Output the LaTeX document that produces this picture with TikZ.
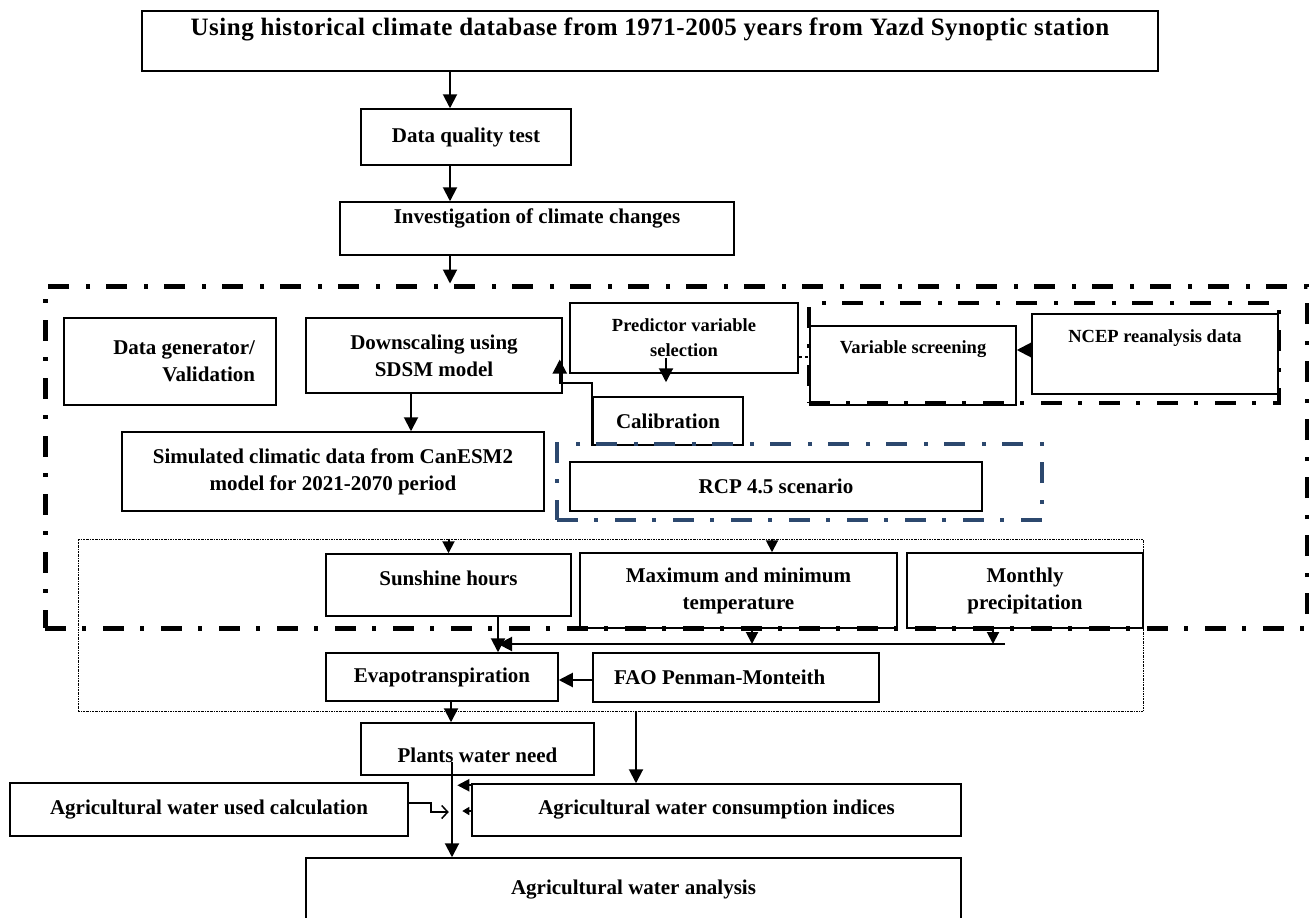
\documentclass[tikz,border=0pt]{standalone}
\usepackage{fontspec}
\setmainfont{Liberation Serif}
\usetikzlibrary{arrows.meta}
\definecolor{frameblue}{RGB}{44,72,110}

\begin{document}
\begin{tikzpicture}[x=1pt,y=-1pt, every node/.style={font=\fontsize{21}{27}\selectfont\bfseries,align=center}, box/.style={draw,line width=1.5pt,inner sep=3pt}, small/.style={font=\fontsize{18.5}{25}\selectfont\bfseries}, dashdot/.style={line width=#1,dash pattern=on 21pt off 16pt on 4pt off 17pt}, arr/.style={-{Triangle[length=14pt,width=14pt]},line width=2pt}, sarr/.style={-{Triangle[length=12pt,width=12pt]},line width=2pt}]
\useasboundingbox (0,0) rectangle (1309,918);
\node[box,font=\fontsize{25}{29}\selectfont\bfseries\addfontfeatures{LetterSpace=2},minimum width=1016pt,minimum height=60pt,text height=17pt,text depth=29pt] (hist) at (650,41) {Using historical climate database from 1971-2005 years from Yazd Synoptic station};
\node[box,minimum width=210pt,minimum height=56pt] (dq) at (466,137) {Data quality test};
\node[box,minimum width=394pt,minimum height=53pt,text height=15pt,text depth=26pt] (inv) at (537,228.5) {Investigation of climate changes};
\node[box,minimum width=212pt,minimum height=87pt,text width=170pt,align=flush right] (gen) at (170,361.5) {Data generator/\\Validation};
\node[box,minimum width=256pt,minimum height=75pt] (down) at (434,355.5) {Downscaling using\\SDSM model};
\node[box,small,minimum width=228pt,minimum height=70pt] (pred) at (684,338) {Predictor variable\\selection};
\node[box,minimum width=150pt,minimum height=48pt] (cal) at (668,421) {Calibration};
\node[box,small,minimum width=206pt,minimum height=79pt,text height=13pt,text depth=38pt] (screen) at (913,365.5) {Variable screening};
\node[box,small,minimum width=246pt,minimum height=80pt,text height=13pt,text depth=37pt] (ncep) at (1155,354) {NCEP reanalysis data};
\node[box,minimum width=422pt,minimum height=79pt] (sim) at (333,471.5) {Simulated climatic data from CanESM2\\model for 2021-2070 period};
\node[box,minimum width=412pt,minimum height=49pt] (rcp) at (776,486.5) {RCP 4.5 scenario};
\node[box,minimum width=245pt,minimum height=62pt,text height=15pt,text depth=15pt] (sun) at (448.5,585) {Sunshine hours};
\node[box,minimum width=317pt,minimum height=75pt] (temp) at (738.5,590.5) {Maximum and minimum\\temperature};
\node[box,minimum width=236pt,minimum height=75pt] (prec) at (1025,590.5) {Monthly\\precipitation};
\node[box,minimum width=232pt,minimum height=48pt] (evap) at (442,677) {Evapotranspiration};
\node[box,minimum width=286pt,minimum height=49pt,text width=244pt,align=flush left] (fao) at (736,677.5) {FAO Penman-Monteith};
\node[box,minimum width=233pt,minimum height=52pt,text height=26pt,text depth=0pt] (need) at (477.5,749) {Plants water need};
\node[box,minimum width=398pt,minimum height=53pt] (used) at (209,809.5) {Agricultural water used calculation};
\node[box,minimum width=489pt,minimum height=52pt] (cons) at (716.5,810) {Agricultural water consumption indices};
\node[box,minimum width=655pt,minimum height=64pt] (anal) at (633.5,890) {Agricultural water analysis};
\node[draw,dashdot=5pt,minimum width=1262pt,minimum height=342pt] (frame) at (676,457) {};
\node[draw,dashdot=4pt,minimum width=470pt,minimum height=100pt] (ncepframe) at (1044,353) {};
\node[draw=frameblue,dashdot=4pt,minimum width=485pt,minimum height=76pt] (rcpframe) at (799.5,482) {};
\node[draw,line width=0.7pt,dash pattern=on 2pt off 1pt on 0.6pt off 1pt,minimum width=1065pt,minimum height=172pt] (vars) at (610.5,625) {};
\coordinate (spine) at (450,0); \coordinate (simx) at (411,0); \coordinate (predx) at (666,0); \coordinate (tempx) at (772,0); \coordinate (tempd) at (752,0); \coordinate (precd) at (993,0); \coordinate (etx) at (498,0); \coordinate (needx) at (451,0); \coordinate (faox) at (636,0); \coordinate (anax) at (452,0); \coordinate (bus) at (1005,644);
\draw[arr] (hist.south -| spine) -- (dq.north -| spine);\draw[arr] (dq.south -| spine) -- (inv.north -| spine);\draw[arr] (inv.south -| spine) -- (frame.north -| spine);
\draw[arr] (down.south -| simx) -- (sim.north -| simx);
\draw[arr] (cal.south west) -- ++(0,-63) -| ([xshift=-3pt,yshift=-4pt]down.east);
\draw[arr] ([yshift=16pt]pred.south -| predx) -- ([yshift=14pt]cal.north -| predx);
\draw[line width=1.5pt,dashed] ([yshift=-19pt]pred.east) -- ([yshift=-19pt]pred.east -| screen.west);
\draw[arr] ([yshift=4pt]ncep.west) -- ([yshift=4pt]ncep.west -| screen.east);
\draw[sarr] (vars.north -| sun) -- (sun.north);\draw[sarr] (vars.north -| tempx) -- (temp.north -| tempx);
\draw[sarr] (temp.south -| tempd) -- (bus -| tempd);\draw[sarr] (prec.south -| precd) -- (bus -| precd);
\draw[arr] (bus) -- (bus -| etx);\draw[arr] (sun.south -| etx) -- (evap.north -| etx);
\draw[arr] ([yshift=-2.5pt]fao.west) -- ([yshift=-2.5pt]fao.west -| evap.east);
\draw[arr] (evap.south -| needx) -- (need.north -| needx);\draw[arr] (vars.south -| faox) -- (cons.north -| faox);
\draw[arr] ([yshift=14pt]need.south -| anax) -- (anal.north -| anax);
\draw[-{Straight Barb[length=6pt,width=13pt]},line width=1.5pt] ([yshift=6.5pt]used.east) -- ++(22,0) |- ++(18,9);
\draw[sarr] ([yshift=-2pt]cons.north west) -- ++(-14,0);\draw[-{Triangle[length=7pt,width=8pt]},line width=1.5pt] ([yshift=-1pt]cons.west) -- ++(-9,0);
\end{tikzpicture}
\end{document}
